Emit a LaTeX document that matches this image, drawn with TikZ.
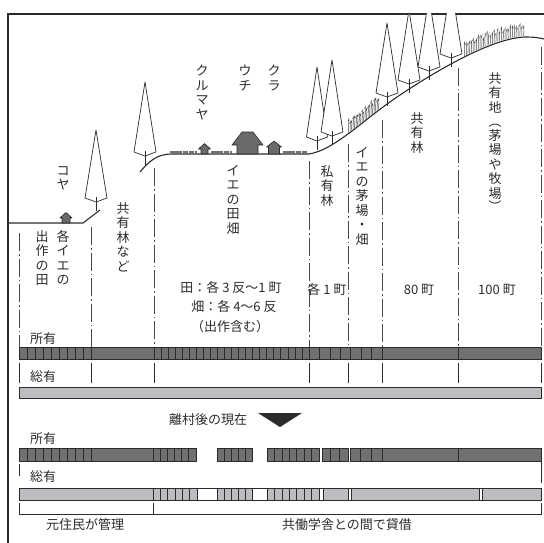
\documentclass[tikz,border=0pt]{standalone}
\usepackage{fontspec}
\setmainfont{Noto Sans CJK JP}
\usetikzlibrary{decorations.markings}

\definecolor{ink}{HTML}{2B2B2B}
\definecolor{barDark}{HTML}{707072}
\definecolor{barLight}{HTML}{BCBDC0}
\definecolor{roofGray}{HTML}{6A6A6C}
\definecolor{grassGray}{HTML}{4A4A4A}

\tikzset{
  frame/.style={line width=1.1pt, draw=ink},
  ground/.style={line width=1.1pt, draw=ink},
  treeline/.style={line width=0.7pt, draw=ink, fill=white, line join=round},
  bound/.style={line width=0.9pt, draw=ink!85, dash pattern=on 18pt off 3pt on 1.5pt off 3pt},
  tick/.style={line width=0.9pt, draw=ink},
  vt/.style={font=\fontsize{13}{14.5}\selectfont, align=center, inner sep=0pt, anchor=north, text=ink},
  ht/.style={font=\fontsize{13}{15}\selectfont, inner sep=0pt, text=ink},
  house/.style={fill=roofGray, draw=ink, line width=0.6pt, line join=round},
  field/.style={draw=barDark, line width=3pt, dash pattern=on 5.5pt off 0.8pt},
  cellbar/.style={draw=ink, line width=0.7pt},
  grass/.style={draw=grassGray, line width=0.5pt},
}

% conifer: x, apex y, base y, half width
\newcommand\conifer[4]{%
  \draw[treeline] (#1,#2) -- (#1-#4,#3) -- (#1,#3+4) -- (#1+#4,#3) -- cycle;
  \draw[line width=0.7pt, draw=ink] (#1,#3-1) -- (#1,#3+13);
}
% cell dividers inside a bar: x0, x1, number of cells, y top, y bottom
\newcommand\barcells[5]{%
  \pgfmathtruncatemacro\nn{#3-1}%
  \foreach \k [evaluate=\k as \xx using #1+\k*(#2-#1)/#3] in {1,...,\nn}
    \draw[cellbar] (\xx,#4) -- (\xx,#5);
}
% grass strokes along a stretch of a path
\tikzset{grassmarks/.style 2 args={decoration={markings,
  mark=between positions #1 and #2 step 1.9pt with {%
    \pgftransformresetnontranslations
    \pgfmathsetmacro\gh{10+5*rnd}%
    \pgfmathsetmacro\gw{0.8*rand}%
    \draw[grass] (0,-1) .. controls (\gw,-\gh*0.5) .. (0.2,-\gh) -- (-0.6,-\gh+2);}}, decorate}}

\begin{document}
\begin{tikzpicture}[x=1pt,y=-1pt]
\pgfmathsetseed{7}
\useasboundingbox (0,0) rectangle (544,543);

% frame
\draw[frame] (8,543) -- (8,14) -- (544,14);

% grass on the slopes
\path[grassmarks={45pt}{83pt}] (309,154) .. controls (335,150) and (365,118) .. (400,95);
\path[grassmarks={75pt}{140pt}] (400,95) .. controls (445,65) and (495,38) .. (525,37);

% ground profile
\draw[ground] (8,223) -- (83,223) -- (100,210);
\draw[ground] (140,172) .. controls (150,160) and (158,154) .. (172,154) -- (309,154)
  .. controls (335,150) and (365,118) .. (400,95)
  .. controls (445,65) and (495,38) .. (525,37)
  .. controls (535,37) and (540,38) .. (544,39);

% fields on the plateau
\draw[field] (170,152) -- (197,152);
\draw[field] (211,152) -- (232,152);
\draw[field] (283,152) -- (307,152);

% buildings
\draw[house] (62,223) -- (62,218) -- (60,218) -- (66,212.5) -- (72,218) -- (70,218) -- (70,223) -- cycle;
\draw[house] (201,154) -- (201,149) -- (198.5,149) -- (204.5,143.5) -- (210.5,149) -- (208,149) -- (208,154) -- cycle;
\draw[house] (237,154) -- (237,145) -- (232,145) -- (242,132) -- (253,132) -- (263,145) -- (258,145) -- (258,154) -- cycle;
\draw[house] (268.5,154) -- (268.5,147) -- (266.5,147) -- (274,141) -- (281.5,147) -- (279.5,147) -- (279.5,154) -- cycle;

% trees
\begin{scope}
  \clip (8,14) rectangle (544,543);
  \conifer{96}{130}{198}{11}
  \conifer{145}{82}{152}{11}
  \conifer{317}{67}{137}{10.5}
  \conifer{332}{60}{132}{11}
  \conifer{387}{23}{93}{11}
  \conifer{409}{10}{80}{11}
  \conifer{429}{-3}{67}{11}
  \conifer{451}{-16}{54}{11}
\end{scope}

% zone boundaries
\foreach \bx/\by in {19/233, 91/227, 154/168, 309/161, 348/144, 382/120, 458/68, 541/47}
  \draw[bound] (\bx,\by) -- (\bx,347);
\foreach \bx in {19,91,154,309,348,382,458,541}
  \draw[tick] (\bx,363) -- (\bx,383);

% vertical labels
\node[vt] (koya) at (63,166) {コ\\ヤ};
\node[vt] (kurumaya) at (202,65) {ク\\ル\\マ\\ヤ};
\node[vt] (uchi) at (245,65) {ウ\\チ};
\node[vt] (kura) at (274,65) {ク\\ラ};
\node[vt] (kakuie) at (63,230) {各\\イ\\エ\\の};
\node[vt] (desaku) at (42,230) {出\\作\\の\\田};
\node[vt] (kyouyuurin1) at (123,202) {共\\有\\林\\な\\ど};
\node[vt] (iedenhata) at (233,165) {イ\\エ\\の\\田\\畑};
\node[vt] (shiyuurin) at (327,165) {私\\有\\林};
\node[vt] (kayaba) at (362,147) {イ\\エ\\の\\茅\\場\\・\\畑};
\node[vt] (kyouyuurin2) at (417,112) {共\\有\\林};
\node[vt] (kyouyuuchi) at (495,72) {共\\有\\地\\︵\\[-1pt]茅\\場\\や\\牧\\場\\[-1pt]︶};

% areas
\node[ht] (areaA) at (231,288) {田：各\kern3pt 3\kern3pt 反～1\kern3pt 町};
\node[ht] (areaB) at (234,307) {畑：各\kern3pt 4～6\kern3pt 反};
\node[ht] (areaC) at (230,327) {（出作含む）};
\node[ht] (areaD) at (327,290) {各\kern3pt 1\kern3pt 町};
\node[ht] (areaE) at (419,290) {80\kern3pt 町};
\node[ht] (areaF) at (497,290) {100\kern3pt 町};

% ownership before leaving the village
\node[ht, anchor=west] (own1) at (30,339) {所有};
\draw[cellbar, fill=barDark] (19,347) rectangle (541,359);
\barcells{19}{91}{9}{347}{359}
\barcells{154}{309}{22}{347}{359}
\barcells{309}{382}{7}{347}{359}
\foreach \bx in {91,154,309,382,458} \draw[cellbar] (\bx,347) -- (\bx,359);

\node[ht, anchor=west] (comm1) at (30,377) {総有};
\draw[cellbar, fill=barLight] (19,387) rectangle (541,398);

% present
\node[ht] (now) at (208,420) {離村後の現在};
\fill[ink] (258,413) -- (302,413) -- (280,427) -- cycle;

\node[ht, anchor=west] (own2) at (30,439) {所有};
\draw[cellbar, fill=barDark] (19,448) rectangle (196,461);
\barcells{19}{91}{9}{448}{461}
\barcells{153}{196}{6}{448}{461}
\foreach \bx in {91,153} \draw[cellbar] (\bx,448) -- (\bx,461);
\draw[cellbar, fill=barDark] (217,448) rectangle (252,461);
\barcells{217}{252}{5}{448}{461}
\draw[cellbar, fill=barDark] (267,448) rectangle (319,461);
\barcells{267}{319}{7}{448}{461}
\draw[cellbar, fill=barDark] (322,448) rectangle (348,461);
\barcells{322}{348}{3}{448}{461}
\draw[cellbar, fill=barDark] (350,448) rectangle (541,461);
\barcells{350}{382}{3}{448}{461}
\foreach \bx in {382,458} \draw[cellbar] (\bx,448) -- (\bx,461);

\draw[tick] (19,464) -- (19,476);
\draw[tick] (541,462) -- (541,483);

\node[ht, anchor=west] (comm2) at (30,477) {総有};
\draw[cellbar, fill=barLight] (19,488) rectangle (541,500);
\barcells{153}{197}{6}{488}{500}
\draw[cellbar] (153,488) -- (153,500);
\barcells{217}{252}{5}{488}{500}
\barcells{267}{319}{7}{488}{500}
\foreach \wa/\wb in {197/217, 252/267, 319/323, 348/351, 479/482}
  \draw[cellbar, fill=white] (\wa,488) rectangle (\wb,500);

% management
\draw[tick] (19,503) -- (19,514) -- (541,514) -- (541,503);
\draw[tick] (153,503) -- (153,514);
\node[ht] (locals) at (85,525) {元住民が管理};
\node[ht] (lease) at (347,525) {共働学舎との間で貸借};
\end{tikzpicture}
\end{document}
